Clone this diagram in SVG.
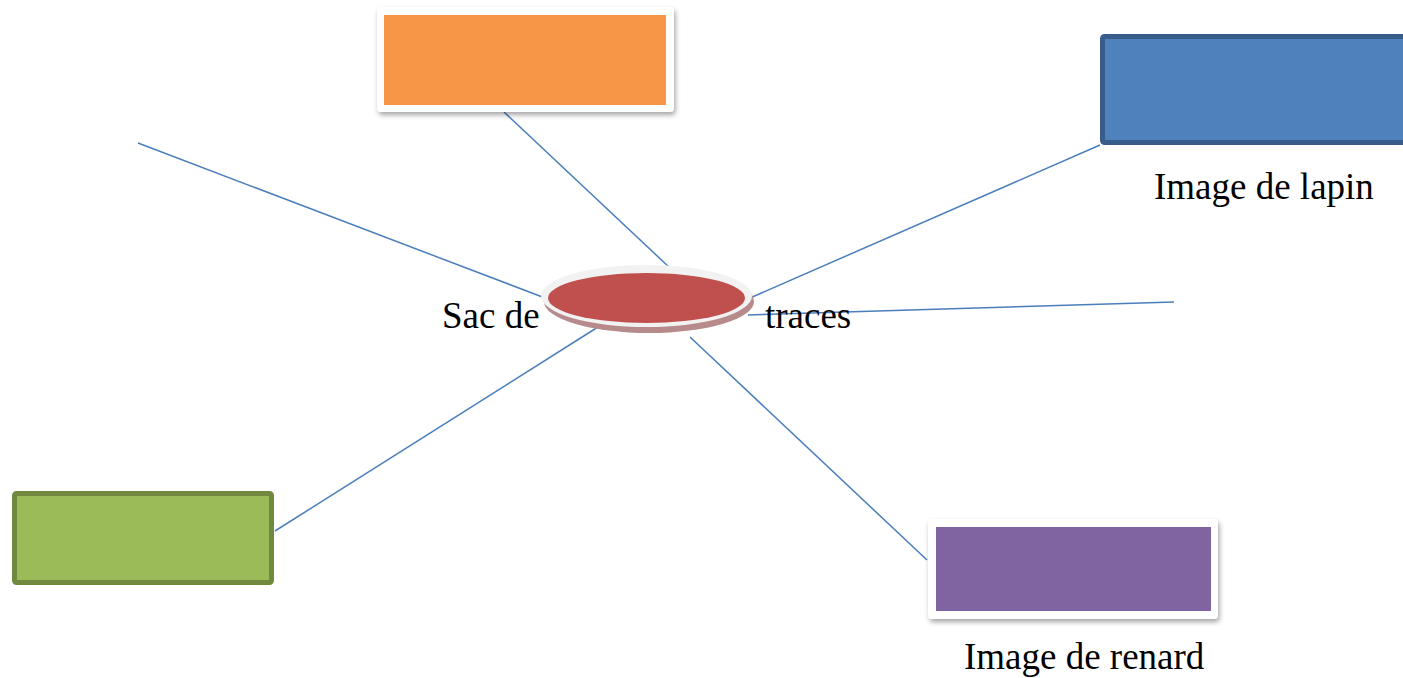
<svg xmlns="http://www.w3.org/2000/svg" width="1403" height="678" viewBox="0 0 1403 678">
  <style>
    .link { stroke: #4a7ebb; stroke-width: 1.5; fill: none; }
    .label { font-family: "Liberation Serif", "Times New Roman", serif; font-size: 37px; fill: #000; }
    .frame { fill: #ffffff; filter: url(#soft); }
  </style>
  <defs>
    <filter id="soft" x="-10%" y="-20%" width="125%" height="150%">
      <feDropShadow dx="1.5" dy="3" stdDeviation="2.5" flood-color="#000" flood-opacity="0.35"/>
    </filter>
  </defs>

  <rect width="1403" height="678" fill="#ffffff"/>

  <!-- connectors -->
  <g id="connectors">
    <line class="link" x1="138" y1="143" x2="545" y2="298"/>
    <line class="link" x1="504" y1="112" x2="670" y2="268"/>
    <line class="link" x1="1100" y1="145" x2="750" y2="298"/>
    <line class="link" x1="1174" y1="302" x2="748" y2="315"/>
    <line class="link" x1="275" y1="531" x2="598" y2="327"/>
    <line class="link" x1="690" y1="337" x2="927" y2="560"/>
  </g>

  <!-- central disc -->
  <g id="centre">
    <ellipse cx="649" cy="301.5" rx="105" ry="31.5" fill="#b78b8b"/>
    <ellipse cx="646.5" cy="296" rx="105.5" ry="31" fill="#f2f2f2"/>
    <ellipse cx="646.5" cy="298" rx="98.5" ry="25" fill="#c0504d"/>
    <text class="label" x="442" y="328">Sac de</text>
    <text class="label" x="765" y="328">traces</text>
  </g>

  <!-- orange picture frame -->
  <g id="orange">
    <rect class="frame" x="377" y="7" width="297" height="105" rx="4"/>
    <rect x="384" y="15" width="282" height="90" fill="#f79646"/>
  </g>

  <!-- blue box -->
  <g id="lapin">
    <rect x="1102.5" y="36.5" width="310" height="106" rx="2" fill="#4f81bd" stroke="#385d8a" stroke-width="5"/>
    <text class="label" x="1154" y="199">Image de lapin</text>
  </g>

  <!-- green box -->
  <g id="green">
    <rect x="14.5" y="493.5" width="257" height="89" rx="2" fill="#9bbb59" stroke="#71893f" stroke-width="5"/>
  </g>

  <!-- purple picture frame -->
  <g id="renard">
    <rect class="frame" x="928" y="519" width="290" height="100" rx="4"/>
    <rect x="936" y="527" width="275" height="84" fill="#8064a2"/>
    <text class="label" x="964" y="669">Image de renard</text>
  </g>
</svg>
